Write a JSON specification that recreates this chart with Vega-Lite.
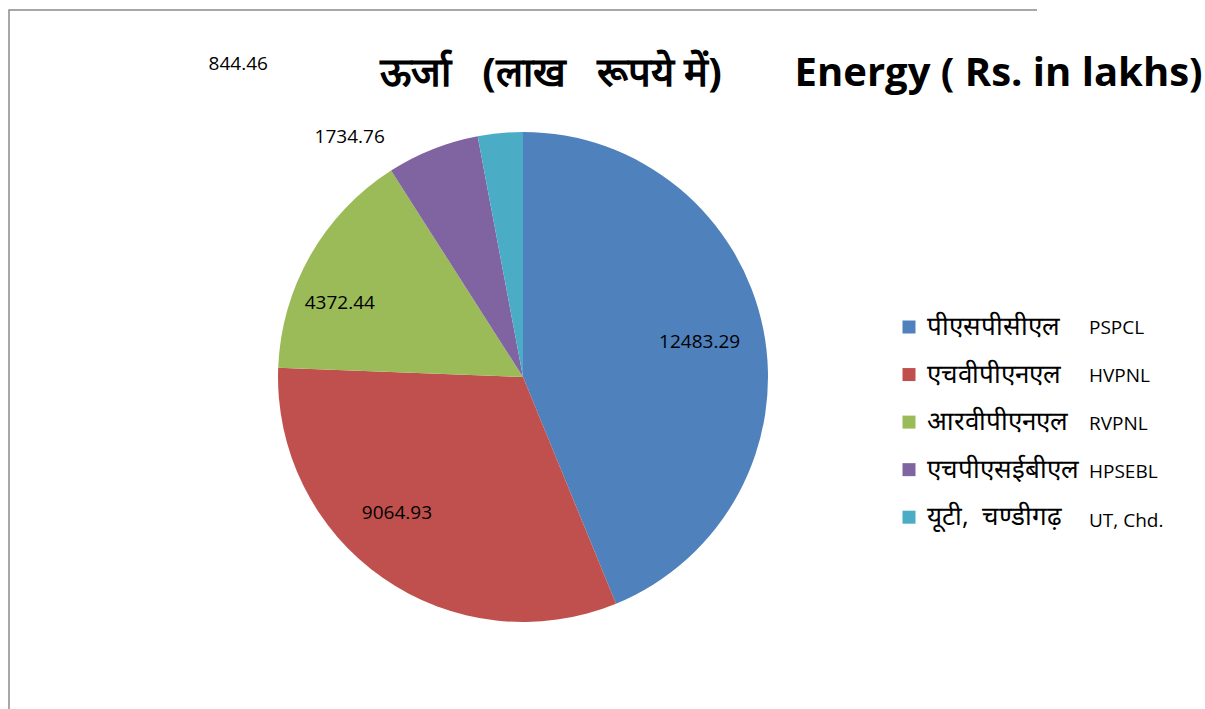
{
  "$schema": "https://vega.github.io/schema/vega-lite/v6.json",
  "width": 1028,
  "height": 734,
  "autosize": {"type": "none"},
  "padding": {"left": 9, "top": 10, "right": 168, "bottom": 0},
  "background": "white",
  "view": {"stroke": "#8a8a8a", "strokeWidth": 1.5, "strokeDash": [1028, 1762, 734]},
  "config": {
    "font": "Open Sans"
  },
  "title": {
    "text": "ऊर्जा\u00a0\u00a0\u00a0(लाख\u00a0\u00a0\u00a0रूपये\u00a0में)\u00a0\u00a0\u00a0\u00a0\u00a0\u00a0\u00a0Energy ( Rs. in lakhs)",
    "orient": "top",
    "anchor": "start",
    "frame": "group",
    "dx": 371,
    "offset": -84,
    "fontSize": 40,
    "fontWeight": "bold",
    "font": "Open Sans",
    "color": "black"
  },
  "data": {
    "values": [
      {"idx": 1, "hindi": "पीएसपीसीएल", "english": "PSPCL", "value": 12483.29},
      {"idx": 2, "hindi": "एचवीपीएनएल", "english": "HVPNL", "value": 9064.93},
      {"idx": 3, "hindi": "आरवीपीएनएल", "english": "RVPNL", "value": 4372.44},
      {"idx": 4, "hindi": "एचपीएसईबीएल", "english": "HPSEBL", "value": 1734.76},
      {"idx": 5, "hindi": "यूटी,\u00a0\u00a0चण्डीगढ़", "english": "UT, Chd.", "value": 844.46}
    ]
  },
  "encoding": {
    "theta": {"field": "value", "type": "quantitative", "stack": true},
    "order": {"field": "idx", "type": "quantitative"}
  },
  "layer": [
    {
      "mark": {"type": "arc", "outerRadius": 245},
      "encoding": {
        "color": {
          "field": "hindi",
          "type": "nominal",
          "scale": {
            "domain": ["पीएसपीसीएल", "एचवीपीएनएल", "आरवीपीएनएल", "एचपीएसईबीएल", "यूटी,\u00a0\u00a0चण्डीगढ़"],
            "range": ["#4F81BD", "#C0504D", "#9BBB59", "#8064A2", "#4BACC6"]
          },
          "legend": {
            "orient": "none",
            "legendX": 887,
            "legendY": 304,
            "title": null,
            "symbolType": "square",
            "symbolSize": 169,
            "symbolStrokeWidth": 0,
            "labelFontSize": 26,
            "labelFont": "Open Sans",
            "labelColor": "black",
            "labelOffset": 5,
            "rowPadding": 21.55,
            "labelLimit": 400
          }
        }
      }
    },
    {
      "mark": {"type": "text", "radius": 180, "fontSize": 19, "font": "Open Sans", "color": "black", "strokeWidth": 0},
      "encoding": {
        "text": {"condition": {"test": "datum.idx == 1", "field": "value", "format": ".2f"}, "value": ""},
        "stroke": {
          "field": "english",
          "type": "nominal",
          "scale": {"domain": ["PSPCL", "HVPNL", "RVPNL", "HPSEBL", "UT, Chd."], "range": ["transparent"]},
          "legend": {
            "orient": "none",
            "legendX": 1061,
            "legendY": 308,
            "title": null,
            "symbolSize": 0,
            "symbolStrokeWidth": 0,
            "labelFontSize": 19,
            "labelFont": "Open Sans",
            "labelColor": "black",
            "labelOffset": 0,
            "rowPadding": 28.3,
            "labelLimit": 400
          }
        }
      }
    },
    {
      "mark": {"type": "text", "radius": 180, "dx": -23, "dy": -12, "fontSize": 19, "font": "Open Sans", "color": "black"},
      "encoding": {
        "text": {"condition": {"test": "datum.idx == 2", "field": "value", "format": ".2f"}, "value": ""}
      }
    },
    {
      "mark": {"type": "text", "radius": 180, "dx": -27, "dy": 15, "fontSize": 19, "font": "Open Sans", "color": "black"},
      "encoding": {
        "text": {"condition": {"test": "datum.idx == 3", "field": "value", "format": ".2f"}, "value": ""}
      }
    },
    {
      "mark": {"type": "text", "radius": 245, "dx": -83, "dy": -12, "fontSize": 19, "font": "Open Sans", "color": "black"},
      "encoding": {
        "text": {"condition": {"test": "datum.idx == 4", "field": "value", "format": ".2f"}, "value": ""}
      }
    },
    {
      "mark": {"type": "text", "radius": 245, "dx": -262, "dy": -69, "fontSize": 19, "font": "Open Sans", "color": "black"},
      "encoding": {
        "text": {"condition": {"test": "datum.idx == 5", "field": "value", "format": ".2f"}, "value": ""}
      }
    }
  ]
}
